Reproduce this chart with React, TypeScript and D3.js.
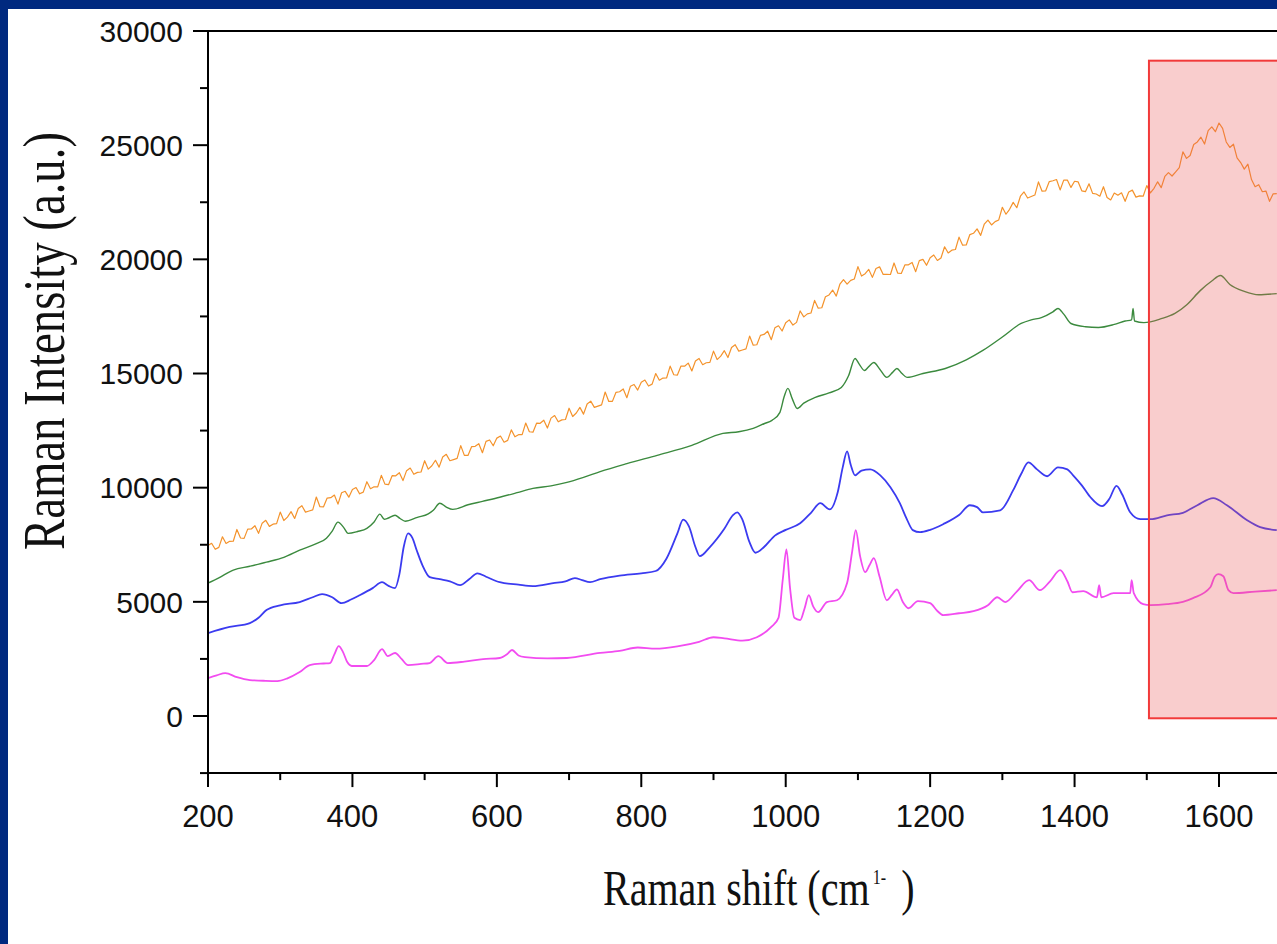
import React from 'react';
import * as d3 from 'd3';

const W = 1277;
const H = 944;

// Raman spectra: [shift (cm-1), intensity (a.u.)]
const orangeSpectrum: [number, number][] = [
  [200,7470],[205,7565],[210,7300],[215,7385],[220,7850],[225,7555],[230,7650],[235,7655],[240,8170],[245,7795],
  [250,7780],[255,8185],[260,8190],[265,8335],[270,8000],[275,8445],[280,8570],[285,8305],[290,8400],[295,8425],
  [300,8930],[305,8560],[310,8710],[315,8950],[320,8650],[325,9090],[330,9210],[335,8930],[340,8980],[345,9030],
  [350,9590],[355,9165],[360,9160],[365,9545],[370,9560],[375,9675],[380,9280],[385,9775],[390,9840],[395,9585],
  [400,9920],[405,10005],[410,9730],[415,9805],[420,10260],[425,9955],[430,10040],[435,10035],[440,10540],[445,10155],
  [450,10130],[455,10525],[460,10520],[465,10655],[470,10310],[475,10745],[480,10860],[485,10585],[490,10670],[495,10685],
  [500,11180],[505,10810],[510,10960],[515,11200],[520,10900],[525,11340],[530,11460],[535,11180],[540,11230],[545,11280],
  [550,11840],[555,11415],[560,11410],[565,11795],[570,11810],[575,11925],[580,11530],[585,12025],[590,12090],[595,11835],
  [600,12170],[605,12260],[610,11990],[615,12070],[620,12530],[625,12230],[630,12320],[635,12320],[640,12830],[645,12450],
  [650,12430],[655,12825],[660,12820],[665,12955],[670,12610],[675,13045],[680,13160],[685,12885],[690,12970],[695,12985],
  [700,13480],[705,13115],[710,13270],[715,13515],[720,13220],[725,13665],[730,13790],[735,13515],[740,13570],[745,13625],
  [750,14190],[755,13775],[760,13780],[765,14175],[770,14200],[775,14325],[780,13940],[785,14445],[790,14520],[795,14275],
  [800,14620],[805,14715],[810,14450],[815,14535],[820,15000],[825,14705],[830,14800],[835,14805],[840,15320],[845,14945],
  [850,14930],[855,15325],[860,15320],[865,15455],[870,15110],[875,15545],[880,15660],[885,15385],[890,15470],[895,15485],
  [900,15980],[905,15610],[910,15760],[915,16000],[920,15700],[925,16140],[930,16260],[935,15980],[940,16030],[945,16080],
  [950,16640],[955,16240],[960,16260],[965,16670],[970,16710],[975,16850],[980,16480],[985,17000],[990,17090],[995,16860],
  [1000,17220],[1005,17350],[1010,17120],[1015,17240],[1020,17740],[1025,17480],[1030,17610],[1035,17650],[1040,18200],[1045,17860],
  [1050,17880],[1055,18360],[1060,18440],[1065,18655],[1070,18390],[1075,18910],[1080,19110],[1085,18915],[1090,19080],[1095,19140],
  [1100,19680],[1105,19265],[1110,19370],[1115,19560],[1120,19210],[1125,19600],[1130,19670],[1135,19340],[1140,19340],[1145,19335],
  [1150,19840],[1155,19400],[1160,19380],[1165,19755],[1170,19760],[1175,19865],[1180,19460],[1185,19945],[1190,20000],[1195,19740],
  [1200,20070],[1205,20190],[1210,19950],[1215,20060],[1220,20550],[1225,20280],[1230,20400],[1235,20430],[1240,20970],[1245,20620],
  [1250,20630],[1255,21085],[1260,21140],[1265,21335],[1270,21050],[1275,21545],[1280,21720],[1285,21505],[1290,21650],[1295,21725],
  [1300,22280],[1305,21975],[1310,22190],[1315,22495],[1320,22260],[1325,22765],[1330,22950],[1335,22685],[1340,22750],[1345,22815],
  [1350,23390],[1355,22985],[1360,23000],[1365,23405],[1370,23440],[1375,23495],[1380,23040],[1385,23470],[1390,23470],[1395,23150],
  [1400,23420],[1405,23390],[1410,23000],[1415,22965],[1420,23310],[1425,22890],[1430,22860],[1435,22765],[1440,23180],[1445,22710],
  [1450,22600],[1455,22905],[1460,22810],[1465,22915],[1470,22540],[1475,22945],[1480,23030],[1485,22725],[1490,22780],[1495,22765],
  [1500,23230],[1505,22910],[1510,23110],[1515,23395],[1520,23140],[1525,23630],[1530,23800],[1535,23650],[1540,23830],[1545,24015],
  [1550,24710],[1555,24420],[1560,24550],[1565,25030],[1570,25140],[1575,25350],[1580,25050],[1585,25640],[1590,25800],[1595,25590],
  [1600,25970],[1605,25735],[1610,25140],[1615,24900],[1620,25040],[1625,24445],[1630,24240],[1635,23950],[1640,24170],[1645,23495],
  [1650,23180],[1655,23270],[1660,22960],[1665,22990],[1670,22540],[1675,22870],[1680,22880],
];

const greenSpectrum: [number, number][] = [
  [200,5820],[215,6050],[235,6390],[258,6560],[281,6740],[305,6950],[327,7260],[350,7550],[364,7790],[372,8100],
  [380,8490],[388,8250],[394,8000],[407,8080],[420,8220],[430,8500],[438,8840],[444,8620],[449,8660],[459,8790],
  [466,8650],[473,8530],[490,8700],[505,8850],[512,9010],[521,9320],[530,9150],[539,9050],[560,9250],[580,9400],
  [604,9580],[628,9780],[650,9970],[675,10080],[697,10230],[720,10450],[743,10700],[780,11050],[822,11415],[870,11850],
  [913,12380],[935,12450],[955,12600],[970,12800],[981,12950],[992,13300],[998,14000],[1003,14350],[1009,13900],[1016,13470],
  [1025,13700],[1041,13950],[1060,14150],[1077,14390],[1087,14900],[1096,15660],[1102,15400],[1109,15130],[1115,15300],[1122,15480],
  [1130,15200],[1140,14830],[1148,15050],[1154,15220],[1161,15000],[1168,14830],[1190,15000],[1221,15220],[1250,15600],[1273,16010],
  [1300,16600],[1326,17190],[1340,17350],[1354,17450],[1370,17700],[1377,17850],[1385,17600],[1395,17190],[1415,17050],[1433,17015],
  [1455,17150],[1470,17300],[1479,17350],[1481,17850],[1483,17300],[1496,17230],[1520,17400],[1539,17630],[1555,18000],[1574,18630],
  [1590,19050],[1602,19290],[1615,18900],[1635,18600],[1655,18450],[1680,18500],
];

const blueSpectrum: [number, number][] = [
  [200,3630],[230,3900],[258,4070],[270,4300],[281,4640],[300,4850],[327,4990],[345,5200],[358,5340],[372,5200],
  [385,4940],[398,5100],[410,5290],[428,5600],[441,5860],[450,5700],[459,5600],[465,6200],[471,7400],[477,8000],
  [483,7800],[489,7260],[497,6600],[507,6080],[521,5990],[535,5900],[549,5730],[562,6000],[573,6250],[585,6100],
  [604,5860],[630,5750],[650,5690],[678,5820],[695,5900],[708,6040],[718,5950],[729,5860],[743,5990],[770,6150],
  [800,6250],[820,6350],[835,6900],[850,8000],[858,8600],[866,8300],[875,7400],[881,7000],[895,7400],[915,8200],
  [927,8800],[933,8920],[940,8600],[950,7600],[958,7150],[970,7400],[985,7900],[1000,8150],[1020,8440],[1035,8900],
  [1048,9320],[1061,9050],[1072,9800],[1079,10900],[1085,11590],[1090,11000],[1096,10540],[1105,10750],[1117,10800],[1131,10540],
  [1145,10020],[1158,9320],[1168,8600],[1176,8140],[1186,8050],[1200,8150],[1218,8400],[1240,8800],[1255,9230],[1265,9150],
  [1273,8920],[1297,9010],[1315,9890],[1326,10600],[1336,11110],[1348,10800],[1362,10500],[1377,10890],[1390,10800],[1398,10540],
  [1410,10100],[1422,9580],[1438,9190],[1448,9500],[1458,10080],[1466,9700],[1477,8920],[1491,8620],[1505,8620],[1528,8790],
  [1550,8900],[1570,9230],[1592,9540],[1611,9230],[1639,8570],[1657,8270],[1680,8140],
];

const magentaSpectrum: [number, number][] = [
  [200,1660],[212,1780],[224,1880],[240,1700],[258,1575],[280,1540],[296,1530],[310,1650],[327,1925],[341,2230],
  [360,2300],[369,2320],[375,2700],[381,3060],[387,2800],[393,2350],[399,2190],[420,2190],[430,2450],[441,2930],
  [449,2620],[459,2760],[468,2500],[477,2230],[495,2280],[507,2320],[519,2620],[532,2320],[555,2380],[581,2490],
  [604,2540],[614,2700],[621,2890],[630,2650],[639,2580],[670,2520],[697,2540],[743,2760],[770,2850],[795,3000],
  [820,2950],[850,3050],[880,3250],[900,3450],[915,3400],[940,3300],[960,3450],[980,3900],[990,4300],[996,6000],
  [1001,7300],[1006,5600],[1012,4300],[1020,4200],[1026,4700],[1032,5290],[1038,4800],[1045,4550],[1057,4990],[1071,5070],
  [1085,5820],[1092,7200],[1097,8140],[1103,7000],[1110,6300],[1116,6600],[1122,6910],[1130,6100],[1140,5070],[1147,5300],
  [1154,5550],[1162,5000],[1170,4720],[1183,5030],[1200,4940],[1210,4600],[1218,4420],[1240,4500],[1260,4590],[1280,4850],
  [1293,5200],[1304,4990],[1320,5450],[1337,5950],[1352,5510],[1366,5900],[1380,6390],[1390,5900],[1397,5420],[1412,5470],
  [1431,5200],[1434,5730],[1437,5200],[1454,5380],[1477,5380],[1479,5950],[1482,5380],[1495,4900],[1505,4860],[1528,4900],
  [1550,5000],[1564,5160],[1588,5640],[1594,6100],[1599,6210],[1606,6120],[1613,5510],[1620,5380],[1650,5450],[1680,5510],
];

const yMajorTicks = [0, 5000, 10000, 15000, 20000, 25000, 30000];
const yMinorTicks = [-2500, 2500, 7500, 12500, 17500, 22500, 27500];
const xMajorTicks = [200, 400, 600, 800, 1000, 1200, 1400, 1600];
const xMinorTicks = [300, 500, 700, 900, 1100, 1300, 1500, 1700];

// highlighted band around the G-band region
const highlightShift = [1503, 1800];
const highlightLevel = [-100, 28700];

const series = [
  { data: orangeSpectrum, color: '#f4932c', width: 1.2, smooth: false },
  { data: greenSpectrum, color: '#3b8a3e', width: 1.4, smooth: true },
  { data: blueSpectrum, color: '#3b3bf0', width: 1.8, smooth: true },
  { data: magentaSpectrum, color: '#f24cf0', width: 1.8, smooth: true },
];

export default function App() {
  const x = d3.scaleLinear().domain([200, 1600]).range([208, 1219]);
  const y = d3.scaleLinear().domain([0, 30000]).range([716, 31]);
  const lineRaw = d3
    .line<[number, number]>()
    .x((d) => x(d[0]))
    .y((d) => y(d[1]));
  const lineSmooth = d3
    .line<[number, number]>()
    .x((d) => x(d[0]))
    .y((d) => y(d[1]))
    .curve(d3.curveMonotoneX);

  const left = x(200);
  const top = y(30000);
  const bottom = y(-2500);
  const sans = "'Liberation Sans', Arial, sans-serif";
  const serif = "'Liberation Serif', 'Times New Roman', serif";

  return (
    <div style={{ position: 'absolute', left: 0, top: 0 }}>
      <svg width={W} height={H} style={{ display: 'block' }}>
        <rect x={0} y={0} width={W} height={H} fill="#00297f" />
        <rect x={8} y={9} width={W - 8} height={H - 9} fill="#ffffff" />
        <defs>
          <clipPath id="plot">
            <rect x={left} y={top} width={W - left} height={bottom - top} />
          </clipPath>
        </defs>

        <g clipPath="url(#plot)">
          {series.map((s, i) => (
            <path
              key={i}
              d={(s.smooth ? lineSmooth(s.data) : lineRaw(s.data)) || ''}
              fill="none"
              stroke={s.color}
              strokeWidth={s.width}
              strokeLinejoin="round"
            />
          ))}
          <rect
            x={x(highlightShift[0])}
            y={y(highlightLevel[1])}
            width={x(highlightShift[1]) - x(highlightShift[0])}
            height={y(highlightLevel[0]) - y(highlightLevel[1])}
            fill="rgb(235,90,90)"
            fillOpacity={0.3}
            stroke="#f23a3a"
            strokeWidth={2}
          />
        </g>

        {/* frame */}
        <line x1={left} x2={left} y1={top} y2={bottom} stroke="#000" strokeWidth={2} />
        <line x1={left} x2={W} y1={top} y2={top} stroke="#000" strokeWidth={2} />
        <line x1={left} x2={W} y1={bottom} y2={bottom} stroke="#000" strokeWidth={2} />

        {/* y axis ticks */}
        {yMajorTicks.map((t) => (
          <g key={'ym' + t}>
            <line x1={left - 15} x2={left} y1={y(t)} y2={y(t)} stroke="#000" strokeWidth={2} />
            <text
              x={left - 25}
              y={y(t)}
              dy="0.36em"
              textAnchor="end"
              fontFamily={sans}
              fontSize={30}
              fill="#111"
            >
              {t}
            </text>
          </g>
        ))}
        {yMinorTicks.map((t) => (
          <line key={'yn' + t} x1={left - 8} x2={left} y1={y(t)} y2={y(t)} stroke="#000" strokeWidth={2} />
        ))}

        {/* x axis ticks */}
        {xMajorTicks.map((t) => (
          <g key={'xm' + t}>
            <line x1={x(t)} x2={x(t)} y1={bottom} y2={bottom + 14} stroke="#000" strokeWidth={2} />
            <text
              x={x(t)}
              y={827}
              textAnchor="middle"
              fontFamily={sans}
              fontSize={31}
              fill="#111"
            >
              {t}
            </text>
          </g>
        ))}
        {xMinorTicks
          .filter((t) => x(t) <= W)
          .map((t) => (
            <line key={'xn' + t} x1={x(t)} x2={x(t)} y1={bottom} y2={bottom + 7} stroke="#000" strokeWidth={2} />
          ))}

        {/* axis titles */}
        <text
          transform="translate(603,905) scale(0.8,1)"
          fontFamily={serif}
          fontSize={50}
          fill="#111"
        >
          Raman shift (cm
          <tspan fontSize={20} dx={4} dy={-21}>
            1-
          </tspan>
          <tspan dx={19} dy={21}>
            )
          </tspan>
        </text>

        <text
          transform="translate(64,341) rotate(-90)"
          textAnchor="middle"
          fontFamily={serif}
          fontSize={60}
          textLength={418}
          lengthAdjust="spacingAndGlyphs"
          fill="#111"
        >
          Raman Intensity (a.u.)
        </text>
      </svg>
    </div>
  );
}
